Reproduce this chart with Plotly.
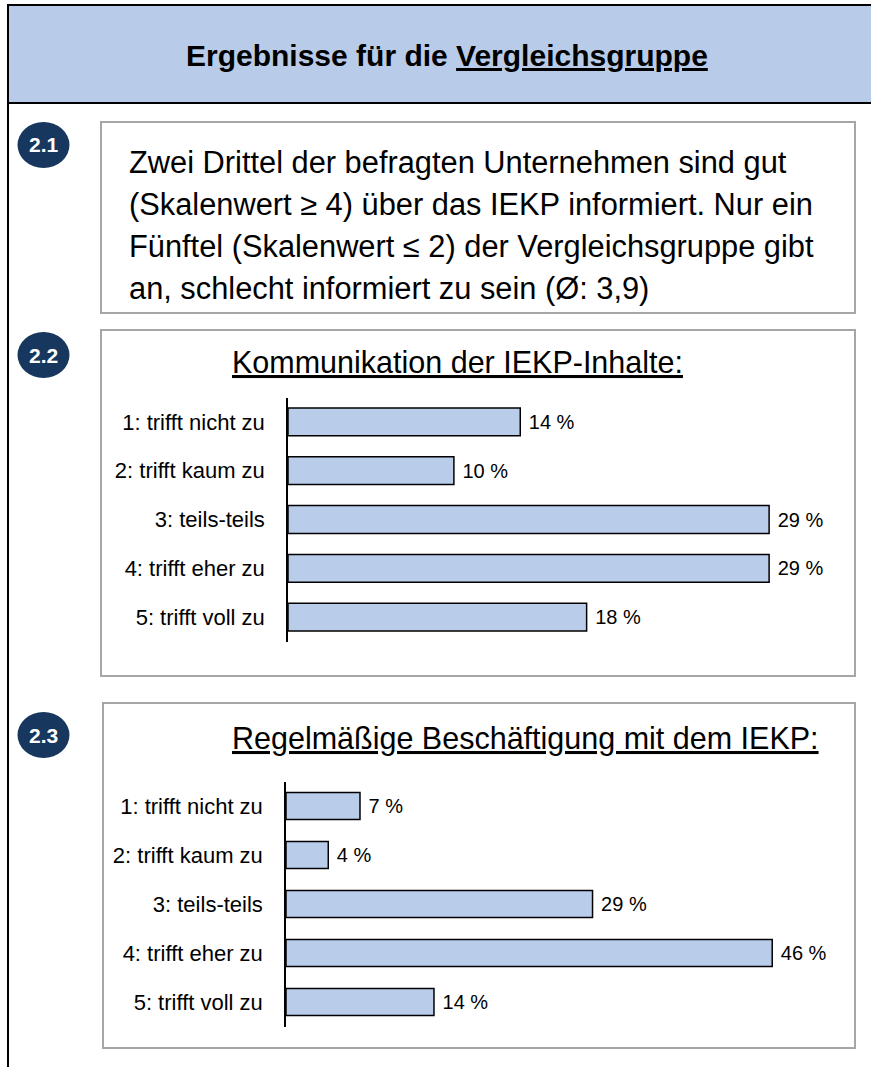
import plotly.graph_objects as go

# ---------------- data ----------------
categories = ["1: trifft nicht zu", "2: trifft kaum zu", "3: teils-teils",
              "4: trifft eher zu", "5: trifft voll zu"]
komm_values = [14, 10, 29, 29, 18]
regel_values = [7, 4, 29, 46, 14]

header_title = "Ergebnisse für die <u>Vergleichsgruppe</u>"
summary_lines = [
    "Zwei Drittel der befragten Unternehmen sind gut",
    "(Skalenwert ≥ 4) über das IEKP informiert. Nur ein",
    "Fünftel (Skalenwert ≤ 2) der Vergleichsgruppe gibt",
    "an, schlecht informiert zu sein (Ø: 3,9)",
]
chart_titles = ["<u>Kommunikation der IEKP-Inhalte:</u>",
                "<u>Regelmäßige Beschäftigung mit dem IEKP:</u>"]
badges = ["2.1", "2.2", "2.3"]

# ---------------- layout helpers ----------------
W, H = 871, 1067
FONT = "Liberation Sans, Arial"
BAR_FILL = "#B9CDEB"
HEADER_FILL = "#B8CCE9"
NAVY = "#17375E"
GRAY = "#A6A6A6"


def X(px):
    return px / W


def Y(py):
    return 1 - py / H


fig = go.Figure()

fig.add_trace(go.Bar(
    x=komm_values, y=categories, orientation="h",
    xaxis="x", yaxis="y",
    marker=dict(color=BAR_FILL, line=dict(color="black", width=1.5)),
    width=0.57,
    text=[f"\u00a0{v} %" for v in komm_values], textposition="outside",
    textfont=dict(family=FONT, size=20, color="black"),
    cliponaxis=False, showlegend=False, hoverinfo="skip",
))
fig.add_trace(go.Bar(
    x=regel_values, y=categories, orientation="h",
    xaxis="x2", yaxis="y2",
    marker=dict(color=BAR_FILL, line=dict(color="black", width=1.5)),
    width=0.55,
    text=[f"\u00a0{v} %" for v in regel_values], textposition="outside",
    textfont=dict(family=FONT, size=20, color="black"),
    cliponaxis=False, showlegend=False, hoverinfo="skip",
))

# chart 2.2 geometry
ax1_left, ax1_scale = 288, 16.59
ax1_range = 32
ax1_top, ax1_bot = 397.5, 641.5
# chart 2.3 geometry
ax2_left, ax2_scale = 286, 10.57
ax2_range = 50
ax2_top, ax2_bot = 781.5, 1026.5

yaxis_common = dict(
    type="category", categoryorder="array", categoryarray=categories,
    range=[4.5, -0.5], showline=True, linecolor="black", linewidth=1.5,
    ticks="", showgrid=False, zeroline=False, fixedrange=True,
    tickfont=dict(family=FONT, size=22, color="black"),
    ticklabelstandoff=17,
)

fig.update_layout(
    width=W, height=H, margin=dict(l=0, r=0, t=0, b=0),
    paper_bgcolor="white", plot_bgcolor="rgba(0,0,0,0)",
    bargap=0.4,
    xaxis=dict(domain=[X(ax1_left), X(ax1_left + ax1_scale * ax1_range)],
               range=[0, ax1_range], visible=False, fixedrange=True),
    yaxis=dict(domain=[Y(ax1_bot), Y(ax1_top)], anchor="x", **yaxis_common),
    xaxis2=dict(domain=[X(ax2_left), X(ax2_left + ax2_scale * ax2_range)],
                range=[0, ax2_range], visible=False, fixedrange=True),
    yaxis2=dict(domain=[Y(ax2_bot), Y(ax2_top)], anchor="x2", **yaxis_common),
)

shapes = []
# header band
shapes.append(dict(type="rect", xref="paper", yref="paper",
                   x0=X(8), x1=X(880), y0=Y(103), y1=Y(5),
                   fillcolor=HEADER_FILL, line=dict(color="black", width=2),
                   layer="below"))
# outer left line
shapes.append(dict(type="line", xref="paper", yref="paper",
                   x0=X(8), x1=X(8), y0=Y(1070), y1=Y(5),
                   line=dict(color="black", width=2), layer="below"))
# content boxes
for (x0, y0, x1, y1) in [(101, 122, 855, 313), (101, 330, 855, 676), (103, 703, 855, 1048)]:
    shapes.append(dict(type="rect", xref="paper", yref="paper",
                       x0=X(x0), x1=X(x1), y0=Y(y1), y1=Y(y0),
                       fillcolor="white", line=dict(color=GRAY, width=2),
                       layer="below"))
# badges
badge_centers = [(43.5, 145), (43.5, 355), (43.5, 735)]
for (cx, cy) in badge_centers:
    rx, ry = 26, 23
    shapes.append(dict(type="circle", xref="paper", yref="paper",
                       x0=X(cx - rx), x1=X(cx + rx), y0=Y(cy + ry), y1=Y(cy - ry),
                       fillcolor=NAVY, line=dict(color=NAVY, width=0),
                       layer="below"))

annotations = []
annotations.append(dict(text=header_title, xref="paper", yref="paper",
                        x=X(447), y=Y(55), xanchor="center", yanchor="middle",
                        showarrow=False,
                        font=dict(family=FONT, size=30, color="black", weight="bold")))
for lbl, (cx, cy) in zip(badges, badge_centers):
    annotations.append(dict(text=f"<b>{lbl}</b>", xref="paper", yref="paper",
                            x=X(cx), y=Y(cy), xanchor="center", yanchor="middle",
                            showarrow=False,
                            font=dict(family=FONT, size=21, color="white")))
line_ys = [162, 204, 246, 288]
for line, ly in zip(summary_lines, line_ys):
    annotations.append(dict(text=line, xref="paper", yref="paper",
                            x=X(127), y=Y(ly), xanchor="left", yanchor="middle",
                            showarrow=False,
                            font=dict(family=FONT, size=30.8, color="black")))
annotations.append(dict(text=chart_titles[0], xref="paper", yref="paper",
                        x=X(457), y=Y(362), xanchor="center", yanchor="middle",
                        showarrow=False,
                        font=dict(family=FONT, size=30.5, color="black")))
annotations.append(dict(text=chart_titles[1], xref="paper", yref="paper",
                        x=X(525), y=Y(738), xanchor="center", yanchor="middle",
                        showarrow=False,
                        font=dict(family=FONT, size=30.5, color="black")))

fig.update_layout(shapes=shapes, annotations=annotations)

fig.write_html("out.html", config={"displayModeBar": False},
               post_script="document.body.style.margin='0';")
